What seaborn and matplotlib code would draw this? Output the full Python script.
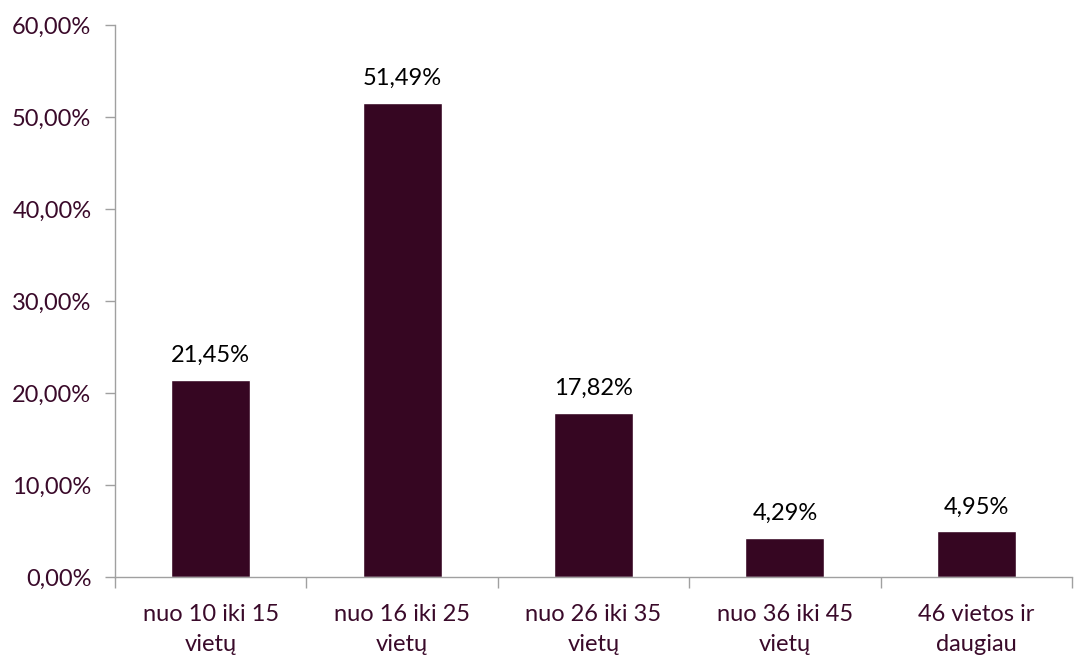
import matplotlib
matplotlib.use("Agg")
import matplotlib.pyplot as plt
import seaborn as sns
import pandas as pd
from matplotlib.ticker import FuncFormatter, FixedLocator

categories = ["nuo 10 iki 15\nvietų", "nuo 16 iki 25\nvietų", "nuo 26 iki 35\nvietų",
              "nuo 36 iki 45\nvietų", "46 vietos ir\ndaugiau"]
values = [21.45, 51.49, 17.82, 4.29, 4.95]
yticks = [0, 10, 20, 30, 40, 50, 60]

sns.set_style("white")
plt.rcParams['font.family'] = ['Lato', 'DejaVu Sans']

bar_color = "#360622"
label_color = "#3a0a2a"
axis_color = "#a0a0a0"
fs = 17

df = pd.DataFrame({"cat": categories, "val": values})

fig = plt.figure(figsize=(10.84, 6.55), dpi=100)
ax = fig.add_axes([115/1084, 1-577/655, (1072-115)/1084, (577-25)/655])
sns.barplot(data=df, x="cat", y="val", color=bar_color, width=0.413, ax=ax, saturation=1)

ax.set_ylim(0, 60)
ax.set_xlim(-0.5, len(categories)-0.5)
ax.yaxis.set_major_locator(FixedLocator(yticks))
ax.yaxis.set_major_formatter(FuncFormatter(lambda v, p: f"{v:.2f}".replace(".", ",") + "%"))
ax.set_xlabel("")
ax.set_ylabel("")

for s in ["top", "right"]:
    ax.spines[s].set_visible(False)
for s in ["left", "bottom"]:
    ax.spines[s].set_color(axis_color)
    ax.spines[s].set_linewidth(1)

ax.tick_params(axis="y", left=True, length=7, width=1, color=axis_color,
               labelsize=fs, labelcolor=label_color, pad=10)
ax.tick_params(axis="x", bottom=False, labelsize=fs, labelcolor=label_color, pad=16)
ax.set_xticks(range(len(categories)))
ax.set_xticklabels(categories, linespacing=1.55)
ax.set_xticks([i - 0.5 for i in range(len(categories)+1)], minor=True)
ax.tick_params(axis="x", which="minor", bottom=True, length=8, width=1, color=axis_color)

for i, v in enumerate(values):
    ax.text(i, v + 1.96, f"{v:.2f}".replace(".", ",") + "%", ha="center", va="baseline",
            fontsize=fs, color="black")

fig.savefig("out.png", dpi=100)
